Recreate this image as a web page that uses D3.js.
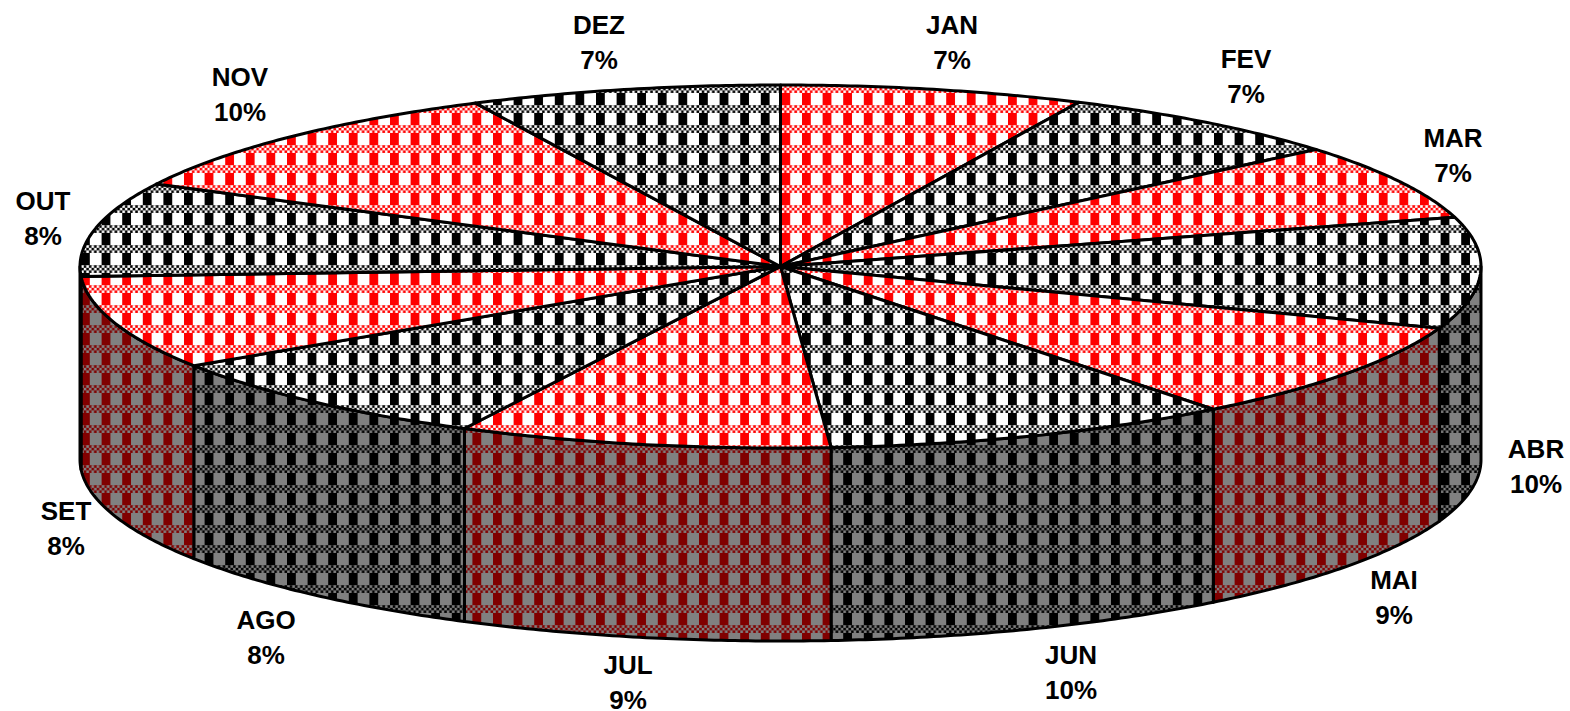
<!DOCTYPE html>
<html><head><meta charset="utf-8">
<script src="https://cdn.jsdelivr.net/npm/d3@7/dist/d3.min.js"></script>
<style>html,body{margin:0;padding:0;background:#fff;overflow:hidden}</style>
</head><body><svg id="c" width="1570" height="711"></svg>
<script>
const months = ["JAN","FEV","MAR","ABR","MAI","JUN","JUL","AGO","SET","OUT","NOV","DEZ"];
const shares = [7.0,6.85,6.77,9.9,8.88,9.45,8.6,8.35,8.33,8.37,10.33,7.17];
const percentLabels = ["7%","7%","7%","10%","9%","10%","9%","8%","8%","8%","10%","7%"];
// label centres, layout only
const labelX = [952,1246,1453,1536,1394,1071,628,266,66,43,240,599];
const labelY = [25,59,138,449,580,655,665,620,511,201,77,25];

const W=1570,H=711, cx=780.5, cy=266.5, rx=700.5, ry=181.5, depth=193;
const x=d3.scaleLinear().domain([-1,1]).range([cx-rx,cx+rx]);
const y=d3.scaleLinear().domain([-1,1]).range([cy-ry,cy+ry]);
const svg=d3.select("#c");
const defs=svg.append("defs");
const swatches=[
 {id:"pBlack",fg:"#000",bg:"#fff",mid:"#808080"},
 {id:"pRed",fg:"#f00",bg:"#fff",mid:"#ff8080"},
 {id:"pBlackS",fg:"#000",bg:"#808080",mid:"#404040"},
 {id:"pRedS",fg:"#800000",bg:"#808080",mid:"#804040"}];
const PW=20.6,PH=20;
swatches.forEach(s=>{
  const p=defs.append("pattern").attr("id",s.id).attr("patternUnits","userSpaceOnUse")
    .attr("width",PW).attr("height",PH).attr("x",699).attr("y",93);
  p.append("rect").attr("width",PW).attr("height",PH).attr("fill",s.bg);
  p.append("rect").attr("x",0).attr("y",0).attr("width",8.8).attr("height",12.5).attr("fill",s.fg);
  p.append("rect").attr("x",0).attr("y",12).attr("width",PW).attr("height",8).attr("fill",s.mid);
  const dots=[];
  for(let i=0;i<4;i++){
    dots.push([i*5.15+0.3,12.4,s.bg],[i*5.15+2.9,12.4,s.fg]);
    dots.push([i*5.15+2.9,15,s.bg],[i*5.15+0.3,15,s.fg]);
    dots.push([i*5.15+0.3,17.6,s.bg],[i*5.15+2.9,17.6,s.fg]);
  }
  p.selectAll("rect.d").data(dots).join("rect").attr("class","d")
    .attr("x",d=>d[0]).attr("y",d=>d[1]).attr("width",2.3).attr("height",2.3).attr("fill",d=>d[2]);
});

const pie=d3.pie().sort(null).value(d=>d).startAngle(0).endAngle(2*Math.PI);
const arcs=pie(shares);
const line=d3.line().x(d=>d[0]).y(d=>d[1]);
const pt=(t,dy=0)=>[x(Math.sin(t)),y(-Math.cos(t))+dy];
function arcPts(a,b,dy=0){
  const n=Math.max(2,Math.ceil((b-a)/0.01));
  return d3.range(n+1).map(i=>pt(a+(b-a)*i/n,dy));
}
// side walls
const sides=arcs.map((d,i)=>{
  const a=Math.max(d.startAngle,Math.PI/2), b=Math.min(d.endAngle,1.5*Math.PI);
  return b>a?{a,b,i}:null;
}).filter(Boolean);
svg.append("g").selectAll("path").data(sides).join("path")
  .attr("d",d=>line([...arcPts(d.a,d.b,0),...arcPts(d.a,d.b,depth).reverse()])+"Z")
  .attr("fill",d=>d.i%2?"url(#pBlackS)":"url(#pRedS)")
  .attr("stroke","#000").attr("stroke-width",3).attr("stroke-linejoin","round");
// top slices
svg.append("g").selectAll("path").data(arcs).join("path")
  .attr("d",(d)=>line([[cx,cy],...arcPts(d.startAngle,d.endAngle)])+"Z")
  .attr("fill",(d,i)=>i%2?"url(#pBlack)":"url(#pRed)")
  .attr("stroke","#000").attr("stroke-width",3).attr("stroke-linejoin","round");
// labels
const t=svg.append("g").attr("font-family","'Liberation Sans',Arial,sans-serif")
  .attr("font-weight","bold").attr("font-size",26).attr("fill","#000").attr("text-anchor","middle");
t.selectAll("text.m").data(months).join("text").attr("class","m")
  .attr("x",(d,i)=>labelX[i]).attr("y",(d,i)=>labelY[i]+9).text(d=>d);
t.selectAll("text.p").data(percentLabels).join("text").attr("class","p")
  .attr("x",(d,i)=>labelX[i]).attr("y",(d,i)=>labelY[i]+44).text(d=>d);
</script></body></html>
